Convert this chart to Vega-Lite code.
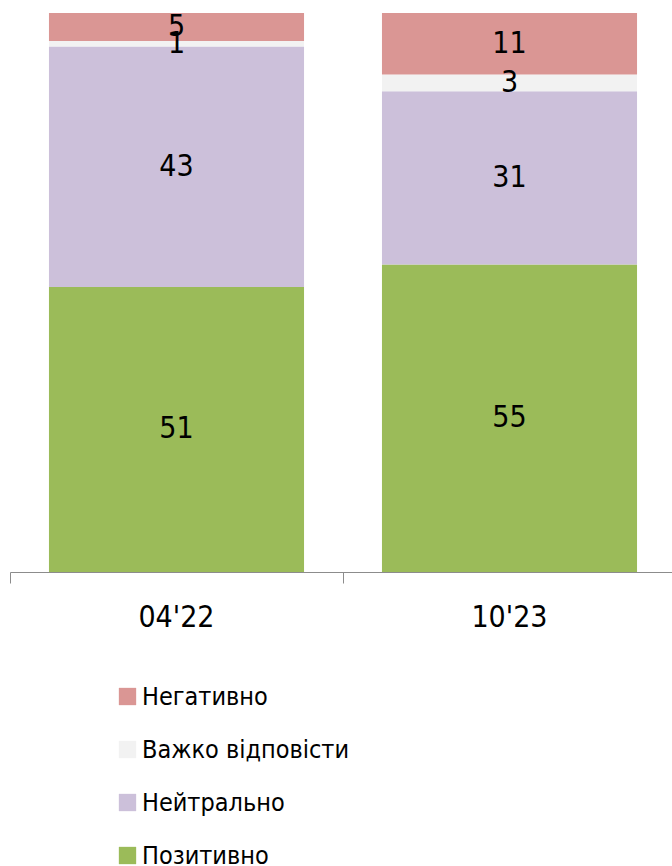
{
  "$schema": "https://vega.github.io/schema/vega-lite/v6.json",
  "autosize": {"type": "none"},
  "padding": {"left": 10, "top": 13, "right": 0, "bottom": 294},
  "width": 666,
  "height": 559,
  "background": "white",
  "config": {"view": {"stroke": null}},
  "data": {"values": [
    {"period": "04'22", "category": "Позитивно", "value": 51, "ord": 1},
    {"period": "04'22", "category": "Нейтрально", "value": 43, "ord": 2},
    {"period": "04'22", "category": "Важко відповісти", "value": 1, "ord": 3},
    {"period": "04'22", "category": "Негативно", "value": 5, "ord": 4},
    {"period": "10'23", "category": "Позитивно", "value": 55, "ord": 1},
    {"period": "10'23", "category": "Нейтрально", "value": 31, "ord": 2},
    {"period": "10'23", "category": "Важко відповісти", "value": 3, "ord": 3},
    {"period": "10'23", "category": "Негативно", "value": 11, "ord": 4}
  ]},
  "transform": [
    {"stack": "value", "groupby": ["period"], "sort": [{"field": "ord", "order": "ascending"}], "as": ["v0", "v1"]},
    {"calculate": "(datum.v0 + datum.v1) / 2", "as": "mid"}
  ],
  "encoding": {
    "x": {"field": "period", "type": "nominal", "scale": {"paddingInner": 0, "paddingOuter": 0},
      "axis": {"title": null, "labelAngle": 0, "domainColor": "#8c8c8c", "tickColor": "#8c8c8c", "tickSize": 11, "bandPosition": 0, "labelFont": "'DejaVu Sans Condensed', 'Liberation Sans', sans-serif", "labelFontSize": 30, "labelColor": "black", "labelPadding": 19}}
  },
  "layer": [
    {"mark": {"type": "bar", "width": {"band": 0.766}},
     "encoding": {
       "y": {"field": "v0", "type": "quantitative", "scale": {"domain": [0, 100]}, "axis": null},
       "y2": {"field": "v1"},
       "color": {"field": "category", "type": "nominal",
         "scale": {"domain": ["Негативно", "Важко відповісти", "Нейтрально", "Позитивно"], "range": ["#DA9694", "#F2F2F2", "#CCC0DA", "#9BBB59"]},
         "legend": {"title": null, "orient": "none", "legendX": 105, "legendY": 671, "symbolType": "square", "symbolSize": 300, "symbolStrokeWidth": 0, "symbolOpacity": 1, "labelFont": "'DejaVu Sans Condensed', 'Liberation Sans', sans-serif", "labelFontSize": 25, "labelColor": "black", "labelOffset": 2, "rowPadding": 27, "labelLimit": 400}}
     }},
    {"mark": {"type": "text", "font": "'DejaVu Sans Condensed', 'Liberation Sans', sans-serif", "fontSize": 30, "color": "black", "baseline": "middle", "align": "center"},
     "encoding": {
       "y": {"field": "mid", "type": "quantitative"},
       "text": {"field": "value", "type": "quantitative"}
     }}
  ]
}
